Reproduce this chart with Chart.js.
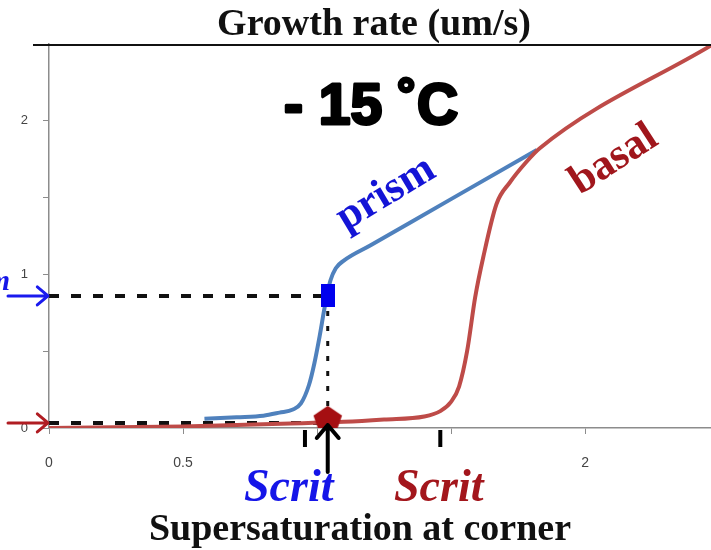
<!DOCTYPE html>
<html>
<head>
<meta charset="utf-8">
<script src="https://cdn.jsdelivr.net/npm/chart.js@4.4.1/dist/chart.umd.min.js"></script>
<style>
  body { margin: 0; background: #fff; }
  #wrap { width: 711px; height: 550px; }
</style>
</head>
<body>
<div id="wrap"><canvas id="myChart" width="711" height="550"></canvas></div>
<script>
// prism face growth (blue)
const prismX = [0.58, 0.7, 0.8, 0.86, 0.91, 0.94, 0.97, 0.99, 1.01, 1.03, 1.05, 1.07, 1.1, 1.2, 1.5, 1.82];
const prismY = [0.06, 0.07, 0.08, 0.1, 0.12, 0.16, 0.28, 0.42, 0.6, 0.8, 0.96, 1.04, 1.09, 1.19, 1.49, 1.81];

// basal face growth (red)
const basalX = [0, 0.5, 0.9, 1.1, 1.25, 1.4, 1.46, 1.5, 1.53, 1.56, 1.59, 1.62, 1.67, 1.72, 1.78, 1.83, 2.47];
const basalY = [0, 0.01, 0.03, 0.04, 0.055, 0.075, 0.11, 0.17, 0.27, 0.5, 0.85, 1.11, 1.46, 1.6, 1.73, 1.82, 2.49];

// critical supersaturation markers and guide lines
const scritX = 1.04;
const prismMarkY = 0.86;
const basalMarkY = 0.06;
const basalGuideY = 0.033;
const basalGuideEndX = 1.01;
const axisMarkX = [0.955, 1.46];

// axes
const xTickValues = [0, 0.5, 1, 1.5, 2];
const xTickLabels = ["0", "0.5", "", "", "2"];
const yTickValues = [0, 0.5, 1, 1.5, 2];
const yTickLabels = ["0", "", "1", "", "2"];

const toPoints = (xs, ys) => xs.map((x, i) => ({ x: x, y: ys[i] }));

// point style images
function makeRect() {
  const c = document.createElement("canvas");
  c.width = 14; c.height = 23;
  const g = c.getContext("2d");
  g.fillStyle = "#0000ee";
  g.fillRect(0, 0, 14, 23);
  return c;
}
function makePentagon() {
  const c = document.createElement("canvas");
  c.width = 30; c.height = 26;
  const g = c.getContext("2d");
  g.fillStyle = "#a50f12";
  g.beginPath();
  for (let i = 0; i < 5; i++) {
    const a = -Math.PI / 2 + i * 2 * Math.PI / 5;
    const px = 15 + 15 * Math.cos(a);
    const py = 14 + 14 * Math.sin(a);
    if (i === 0) g.moveTo(px, py); else g.lineTo(px, py);
  }
  g.closePath();
  g.fill();
  return c;
}

function arrow(ctx, x0, y0, x1, y1, color, w, head) {
  const ang = Math.atan2(y1 - y0, x1 - x0);
  ctx.save();
  ctx.strokeStyle = color;
  ctx.lineWidth = w;
  ctx.lineCap = "round";
  ctx.beginPath();
  ctx.moveTo(x0, y0);
  ctx.lineTo(x1, y1);
  ctx.moveTo(x1 - head * Math.cos(ang - 0.7), y1 - head * Math.sin(ang - 0.7));
  ctx.lineTo(x1, y1);
  ctx.lineTo(x1 - head * Math.cos(ang + 0.7), y1 - head * Math.sin(ang + 0.7));
  ctx.stroke();
  ctx.restore();
}

function rotText(ctx, txt, x, y, deg, font, color) {
  ctx.save();
  ctx.translate(x, y);
  ctx.rotate(deg * Math.PI / 180);
  ctx.font = font;
  ctx.fillStyle = color;
  ctx.textAlign = "center";
  ctx.textBaseline = "middle";
  ctx.fillText(txt, 0, 0);
  ctx.restore();
}

const extras = {
  id: "extras",
  afterDraw(chart) {
    const ctx = chart.ctx;
    const xs = chart.scales.x;
    const ys = chart.scales.y;
    ctx.save();

    // top frame line
    ctx.strokeStyle = "#111";
    ctx.lineWidth = 2;
    ctx.beginPath();
    ctx.moveTo(33, 45);
    ctx.lineTo(711, 45);
    ctx.stroke();

    // titles
    ctx.fillStyle = "#111";
    ctx.textAlign = "center";
    ctx.textBaseline = "alphabetic";
    ctx.font = "bold 38px 'Liberation Serif'";
    ctx.fillText("Growth rate (um/s)", 374, 35);
    ctx.font = "bold 38px 'Liberation Serif'";
    ctx.fillText("Supersaturation at corner", 360, 540);

    // temperature label, thickened with a stroke
    ctx.fillStyle = "#000";
    ctx.strokeStyle = "#000";
    ctx.lineWidth = 3;
    ctx.lineJoin = "round";
    ctx.font = "bold 57px 'Liberation Sans'";
    ctx.strokeText("- 15 \u02DAC", 371, 124);
    ctx.fillText("- 15 \u02DAC", 371, 124);

    // Scrit labels
    ctx.textAlign = "left";
    ctx.font = "bold italic 46px 'Liberation Serif'";
    ctx.fillStyle = "#1515e8";
    ctx.fillText("Scrit", 244, 501);
    ctx.fillStyle = "#a3161c";
    ctx.fillText("Scrit", 394, 501);

    // left label
    ctx.textAlign = "right";
    ctx.font = "bold italic 30px 'Liberation Serif'";
    ctx.fillStyle = "#1515e8";
    ctx.fillText("Vm", 10, 290);

    // curve names
    rotText(ctx, "prism", 386, 194, -31, "bold 43px 'Liberation Serif'", "#1414d6");
    rotText(ctx, "basal", 614, 160, -33, "bold 43px 'Liberation Serif'", "#a0161c");

    // arrows on the y axis
    const yb = ys.getPixelForValue(prismMarkY);
    const yr = ys.getPixelForValue(basalGuideY);
    arrow(ctx, 8, yb, xs.left - 1, yb, "#1a1aee", 3, 14);
    arrow(ctx, 8, yr, xs.left - 1, yr, "#b01c22", 3, 14);

    // marks under the x axis
    ctx.strokeStyle = "#000";
    ctx.lineWidth = 4;
    axisMarkX.forEach(v => {
      const px = xs.getPixelForValue(v);
      ctx.beginPath();
      ctx.moveTo(px, ys.bottom + 2);
      ctx.lineTo(px, ys.bottom + 19);
      ctx.stroke();
    });
    const sx = xs.getPixelForValue(scritX);
    arrow(ctx, sx, 472, sx, ys.bottom - 3, "#000", 4, 17);

    ctx.restore();
  }
};

const config = {
  type: "line",
  data: {
    datasets: [
      {
        data: [{ x: scritX, y: prismMarkY }],
        showLine: false,
        pointStyle: makeRect(),
        order: 0
      },
      {
        data: [{ x: scritX, y: basalMarkY }],
        showLine: false,
        pointStyle: makePentagon(),
        order: 0
      },
      {
        label: "basal",
        data: toPoints(basalX, basalY),
        borderColor: "#be4b48",
        borderWidth: 4,
        pointRadius: 0,
        cubicInterpolationMode: "monotone",
        order: 1
      },
      {
        label: "prism",
        data: toPoints(prismX, prismY),
        borderColor: "#4f81bd",
        borderWidth: 4,
        pointRadius: 0,
        cubicInterpolationMode: "monotone",
        order: 2
      },
      {
        data: [{ x: 0, y: prismMarkY }, { x: scritX, y: prismMarkY }],
        borderColor: "#111",
        borderWidth: 4,
        borderDash: [10, 12],
        pointRadius: 0,
        order: 3
      },
      {
        data: [{ x: 0, y: basalGuideY }, { x: basalGuideEndX, y: basalGuideY }],
        borderColor: "#111",
        borderWidth: 4,
        borderDash: [10, 12],
        pointRadius: 0,
        order: 3
      },
      {
        data: [{ x: scritX, y: prismMarkY }, { x: scritX, y: basalMarkY }],
        borderColor: "#111",
        borderWidth: 3,
        borderDash: [5, 10],
        pointRadius: 0,
        order: 3
      }
    ]
  },
  options: {
    responsive: false,
    animation: false,
    layout: { autoPadding: false, padding: { top: 44, left: 0, right: 0, bottom: 0 } },
    plugins: { legend: { display: false }, tooltip: { enabled: false } },
    scales: {
      x: {
        type: "linear",
        min: 0,
        max: 2.47,
        afterBuildTicks: (s) => { s.ticks = xTickValues.map(v => ({ value: v })); },
        afterFit: (s) => { s.height = 122; s.paddingRight = 0; s.paddingLeft = 0; },
        border: { color: "#8c8c8c", width: 1.5 },
        grid: { drawOnChartArea: false, tickLength: 6, color: "#8c8c8c" },
        ticks: {
          padding: 21,
          color: "#444",
          font: { family: "Liberation Sans", size: 14 },
          callback: (v) => { const i = xTickValues.indexOf(v); return i < 0 ? "" : xTickLabels[i]; }
        }
      },
      y: {
        type: "linear",
        min: 0,
        max: 2.5,
        afterBuildTicks: (s) => { s.ticks = yTickValues.map(v => ({ value: v })); },
        afterFit: (s) => { s.width = 49; s.paddingTop = 0; s.paddingBottom = 0; },
        border: { color: "#8c8c8c", width: 1.5 },
        grid: { drawOnChartArea: false, tickLength: 6, color: "#8c8c8c" },
        ticks: {
          padding: 15,
          color: "#444",
          font: { family: "Liberation Sans", size: 13 },
          callback: (v) => { const i = yTickValues.indexOf(v); return i < 0 ? "" : yTickLabels[i]; }
        }
      }
    }
  },
  plugins: [extras]
};

new Chart(document.getElementById("myChart"), config);
</script>
</body>
</html>
